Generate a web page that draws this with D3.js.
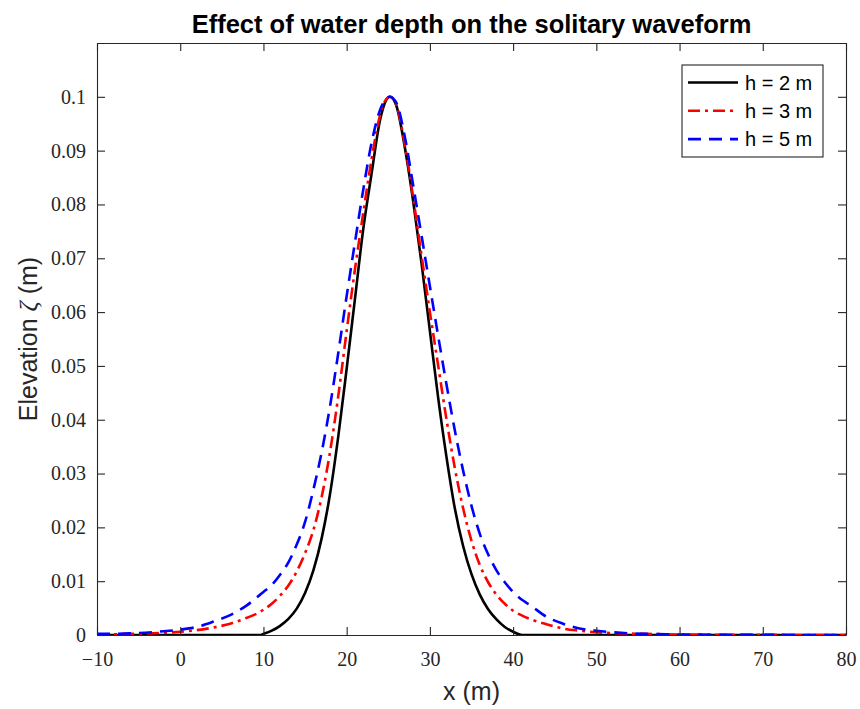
<!DOCTYPE html>
<html>
<head>
<meta charset="utf-8">
<script src="https://cdn.jsdelivr.net/npm/d3@7"></script>
<style>
  body { margin: 0; background: #fff; }
  svg { display: block; }
</style>
</head>
<body>
<div id="chart"></div>
<script>
// values
const xs = [-10, -6, -2, 0, 2, 4, 6, 8, 9.6, 10, 11, 12, 13, 14, 15, 16, 17, 18, 19, 20, 21, 22, 23, 24, 24.6, 25.2,
  25.8, 26, 27, 28, 29, 30, 31, 32, 33, 34, 35, 36, 37, 38, 39, 40, 41.1, 42, 44, 46, 48, 50, 53, 56, 60, 65, 70, 75, 80];

const h2 = [0, 0, 0, 0, 0, 0, 0, 0, 0, 0.0002, 0.0008, 0.0017, 0.0030, 0.0049, 0.0078, 0.0120, 0.0180, 0.0262, 0.0370, 0.0495, 0.0625, 0.0755, 0.0858, 0.0956, 0.0989, 0.1,
  0.0990, 0.0982, 0.0905, 0.0805, 0.0690, 0.0565, 0.0440, 0.0330, 0.0235, 0.0165, 0.0113, 0.0075, 0.0048, 0.0029, 0.0015, 0.0006, 0, 0, 0, 0, 0, 0, 0, 0, 0, 0, 0, 0, 0];

const h3 = [0.0001, 0.0002, 0.0004, 0.0006, 0.0009, 0.0014, 0.0021, 0.0032, 0.0043, 0.0047, 0.0058, 0.0073, 0.0092, 0.0118, 0.0152, 0.0195, 0.0257, 0.0340, 0.0445, 0.0565, 0.0680, 0.0785, 0.0885, 0.0965, 0.0992, 0.1,
  0.0991, 0.0984, 0.0910, 0.0812, 0.0705, 0.0600, 0.0500, 0.0400, 0.0310, 0.0235, 0.0175, 0.0130, 0.0098, 0.0075, 0.0058, 0.0045, 0.0036, 0.0030, 0.0020, 0.0012, 0.0008, 0.0005, 0.0003, 0.0002, 0.0001, 0.00005, 0.00002, 0.00001, 0];

const h5 = [0.0002, 0.0003, 0.0007, 0.0010, 0.0015, 0.0025, 0.0037, 0.0055, 0.0075, 0.0080, 0.0093, 0.0112, 0.0135, 0.0168, 0.0210, 0.0270, 0.0340, 0.0425, 0.0525, 0.0630, 0.0730, 0.0828, 0.0915, 0.0975, 0.0994, 0.1,
  0.0993, 0.0988, 0.0925, 0.0835, 0.0742, 0.0648, 0.0555, 0.0465, 0.0380, 0.0305, 0.0240, 0.0188, 0.0150, 0.0120, 0.0098, 0.0080, 0.0065, 0.0056, 0.0034, 0.0021, 0.0012, 0.0008, 0.0004, 0.0002, 0.0001, 0.00005, 0.00002, 0.00001, 0];

const seriesNames = ["h = 2 m", "h = 3 m", "h = 5 m"];
const xTicks = [-10, 0, 10, 20, 30, 40, 50, 60, 70, 80];
const yTicks = [0, 0.01, 0.02, 0.03, 0.04, 0.05, 0.06, 0.07, 0.08, 0.09, 0.1];

const width = 860, height = 709;
const margin = { top: 43, right: 14, bottom: 74, left: 97 };
const axisColor = "#262626";

const svg = d3.select("#chart")
  .append("svg")
  .attr("width", width)
  .attr("height", height)
  .attr("viewBox", [0, 0, width, height]);

const x = d3.scaleLinear()
  .domain([-10, 80])
  .range([margin.left, width - margin.right]);

const y = d3.scaleLinear()
  .domain([0, 0.11])
  .range([height - margin.bottom, margin.top]);

const series = [
  { name: seriesNames[0], values: h2, color: "#000000", dash: null },
  { name: seriesNames[1], values: h3, color: "#ff0000", dash: "12,5,3,5" },
  { name: seriesNames[2], values: h5, color: "#0000ff", dash: "13,8" }
];

svg.append("clipPath")
  .attr("id", "plot-clip")
  .append("rect")
  .attr("x", x(-10))
  .attr("y", y(0.11))
  .attr("width", x(80) - x(-10))
  .attr("height", y(0) - y(0.11));

const line = d3.line()
  .x((d, i) => x(xs[i]))
  .y(d => y(d))
  .curve(d3.curveMonotoneX);

svg.append("g")
  .attr("clip-path", "url(#plot-clip)")
  .selectAll("path")
  .data(series)
  .join("path")
  .attr("fill", "none")
  .attr("stroke", d => d.color)
  .attr("stroke-width", 2.6)
  .attr("stroke-dasharray", d => d.dash)
  .attr("d", d => line(d.values));

// axes, matlab style: ticks inside on all four sides
const tickFont = "'Liberation Serif', 'Times New Roman', serif";
const fmtX = d => d < 0 ? "\u2212" + Math.abs(d) : String(d);

const xAxis = svg.append("g")
  .attr("transform", `translate(0,${y(0)})`)
  .call(d3.axisBottom(x).tickValues(xTicks).tickSizeInner(-8).tickSizeOuter(0).tickPadding(17).tickFormat(fmtX));

const yAxis = svg.append("g")
  .attr("transform", `translate(${x(-10)},0)`)
  .call(d3.axisLeft(y).tickValues(yTicks).tickSizeInner(-8).tickSizeOuter(0).tickPadding(11).tickFormat(d => String(+d.toFixed(2))));

const xTop = svg.append("g")
  .attr("transform", `translate(0,${y(0.11)})`)
  .call(d3.axisTop(x).tickValues(xTicks).tickSizeInner(-8).tickSizeOuter(0).tickFormat(""));

const yRight = svg.append("g")
  .attr("transform", `translate(${x(80)},0)`)
  .call(d3.axisRight(y).tickValues(yTicks).tickSizeInner(-8).tickSizeOuter(0).tickFormat(""));

[xAxis, yAxis, xTop, yRight].forEach(g => {
  g.select(".domain").attr("stroke", axisColor).attr("stroke-width", 1.1);
  g.selectAll(".tick line").attr("stroke", axisColor).attr("stroke-width", 1.1);
  g.selectAll(".tick text")
    .attr("fill", axisColor)
    .style("font-family", tickFont)
    .style("font-size", "20px");
});
xAxis.selectAll(".tick text").attr("dy", "0.71em");

// title and labels
svg.append("text")
  .attr("x", (x(-10) + x(80)) / 2)
  .attr("y", 33)
  .attr("text-anchor", "middle")
  .style("font-family", "'Liberation Sans', Arial, sans-serif")
  .style("font-weight", "bold")
  .style("font-size", "25.5px")
  .attr("fill", "#000")
  .text("Effect of water depth on the solitary waveform");

svg.append("text")
  .attr("x", (x(-10) + x(80)) / 2)
  .attr("y", 700)
  .attr("text-anchor", "middle")
  .style("font-family", "'Liberation Sans', Arial, sans-serif")
  .style("font-size", "25px")
  .attr("fill", axisColor)
  .text("x (m)");

const yLabel = svg.append("text")
  .attr("transform", `translate(37,${(y(0) + y(0.11)) / 2}) rotate(-90)`)
  .attr("text-anchor", "middle")
  .style("font-family", "'Liberation Sans', Arial, sans-serif")
  .style("font-size", "25px")
  .attr("fill", axisColor);
yLabel.append("tspan").text("Elevation ");
yLabel.append("tspan")
  .style("font-family", "'Liberation Serif', serif")
  .style("font-style", "italic")
  .text("\u03B6");
yLabel.append("tspan").text(" (m)");

// legend
const legend = svg.append("g")
  .attr("transform", "translate(682,65)");

legend.append("rect")
  .attr("width", 141)
  .attr("height", 92)
  .attr("fill", "#fff")
  .attr("stroke", axisColor)
  .attr("stroke-width", 1.1);

const rows = legend.selectAll("g.row")
  .data(series)
  .join("g")
  .attr("class", "row")
  .attr("transform", (d, i) => `translate(0,${17.5 + i * 28.3})`);

rows.append("line")
  .attr("x1", 6)
  .attr("x2", 56)
  .attr("stroke", d => d.color)
  .attr("stroke-width", 2.6)
  .attr("stroke-dasharray", d => d.dash);

rows.append("text")
  .attr("x", 63)
  .attr("dy", "0.35em")
  .style("font-family", "'Liberation Sans', Arial, sans-serif")
  .style("font-size", "20px")
  .attr("fill", "#000")
  .text(d => d.name);
</script>
</body>
</html>
